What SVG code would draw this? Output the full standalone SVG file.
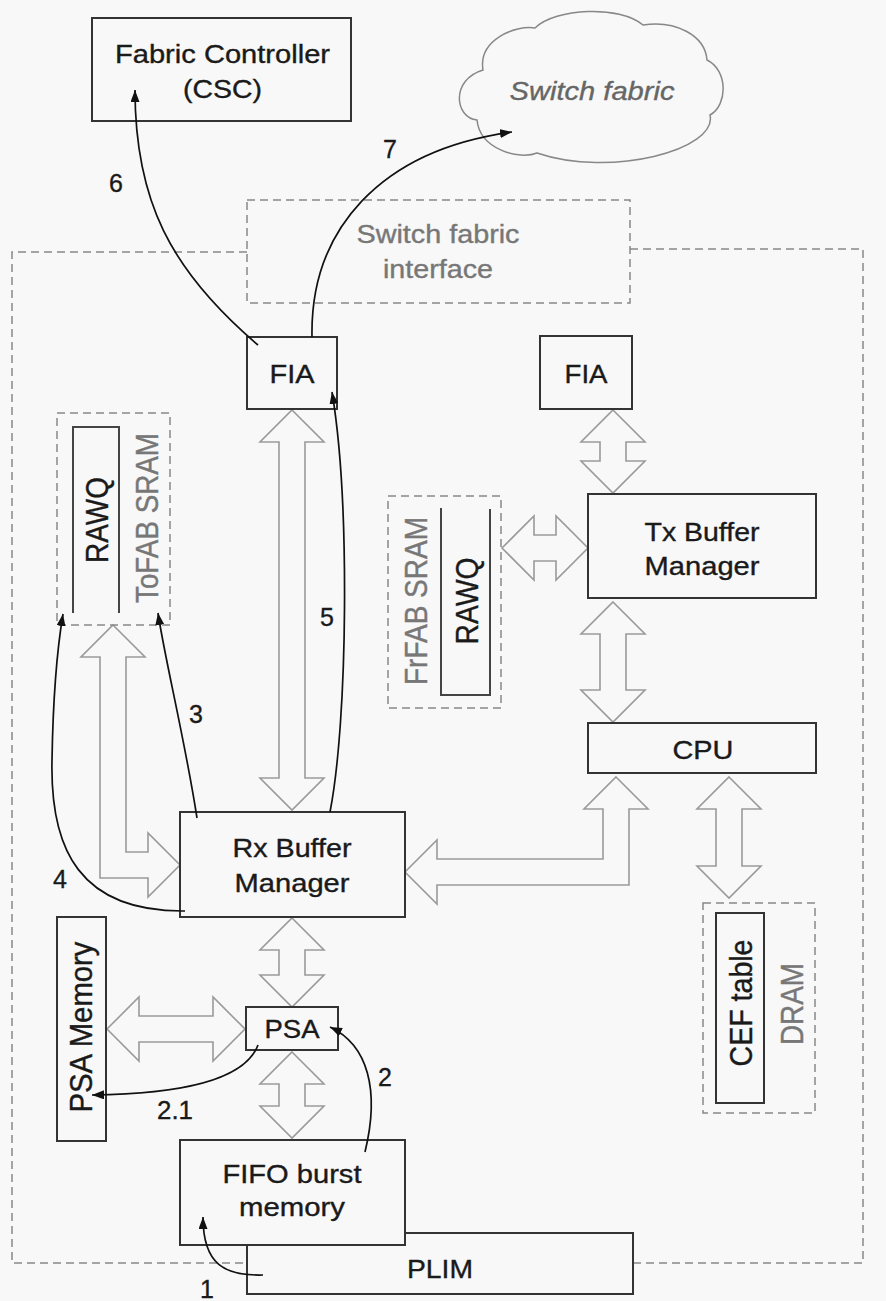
<svg xmlns="http://www.w3.org/2000/svg" width="886" height="1301" viewBox="0 0 886 1301">
<defs>
<style>
.box{fill:#f8f8f8;stroke:#333;stroke-width:2}
.dash{fill:none;stroke:#888;stroke-width:1.5;stroke-dasharray:8 5}
.harrow{fill:#f8f8f8;stroke:#9a9a9a;stroke-width:1.6;stroke-linejoin:miter}
.conn{fill:none;stroke:#111;stroke-width:1.7;marker-end:url(#ah)}
.t{font-family:"Liberation Sans",Arial,sans-serif;font-size:25px;fill:#1a1a1a;stroke:#1a1a1a;stroke-width:0.35;text-anchor:middle}
.g{fill:#777;stroke:#777}
.r{font-size:27px}
.q{fill:none;stroke:#444;stroke-width:2}
</style>
<marker id="ah" viewBox="0 0 12 9" refX="12" refY="4.5" markerWidth="12" markerHeight="9" markerUnits="userSpaceOnUse" orient="auto">
<path d="M0 0 L12 4.5 L0 9 Z" fill="#111"/>
</marker>
</defs>
<rect x="0" y="0" width="886" height="1301" fill="#f8f8f8"/>

<g id="line-card">
<path class="dash" d="M247 252 H12 V1263 H247 M633 1263 H863 V249 H630"/>
</g>

<g id="fabric-controller">
<rect class="box" x="92" y="18" width="259" height="103"/>
<text class="t" x="222.5" y="63" textLength="215" lengthAdjust="spacingAndGlyphs">Fabric Controller</text>
<text class="t" x="222.5" y="98" textLength="79" lengthAdjust="spacingAndGlyphs">(CSC)</text>
</g>

<g id="switch-fabric">
<path d="M477 120 C455 118,450 80,483 70 C478 40,515 25,535 28 C555 8,620 5,643 25 C675 20,705 35,707 60 C728 70,728 105,710 115 C718 150,610 178,537 153 C520 160,480 150,477 120 Z" fill="#f8f8f8" stroke="#888" stroke-width="1.5"/>
<text class="t" x="592" y="100" style="font-style:italic;fill:#666;stroke:#666" textLength="165" lengthAdjust="spacingAndGlyphs">Switch fabric</text>
</g>

<g id="switch-fabric-interface">
<rect class="dash" x="247" y="200" width="383" height="103"/>
<text class="t g" x="438" y="243" textLength="163" lengthAdjust="spacingAndGlyphs">Switch fabric</text>
<text class="t g" x="438" y="278" textLength="110" lengthAdjust="spacingAndGlyphs">interface</text>
</g>

<g id="bus-arrows">
<path class="harrow" d="M107 1029 L139 997 L139 1016 L213 1016 L213 997 L245 1029 L213 1061 L213 1042 L139 1042 L139 1061 Z"/>
<path class="harrow" d="M292 918 L324 950 L305 950 L305 975 L324 975 L292 1007 L260 975 L279 975 L279 950 L260 950 Z"/>
<path class="harrow" d="M292 1052 L324 1084 L305 1084 L305 1106 L324 1106 L292 1138 L260 1106 L279 1106 L279 1084 L260 1084 Z"/>
<path class="harrow" d="M292 410 L324 442 L305 442 L305 778 L324 778 L292 810 L260 778 L279 778 L279 442 L260 442 Z"/>
<path class="harrow" d="M113 625 L145 657 L126 657 L126 852 L148 852 L148 833 L180 865 L148 897 L148 878 L100 878 L100 657 L81 657 Z"/>
<path class="harrow" d="M616 777 L648 809 L629 809 L629 885 L437 885 L437 904 L405 872 L437 840 L437 859 L603 859 L603 809 L584 809 Z"/>
<path class="harrow" d="M613 410 L645 442 L626 442 L626 461 L645 461 L613 493 L581 461 L600 461 L600 442 L581 442 Z"/>
<path class="harrow" d="M502 548 L534 516 L534 535 L556 535 L556 516 L588 548 L556 580 L556 561 L534 561 L534 580 Z"/>
<path class="harrow" d="M613 602 L645 634 L626 634 L626 690 L645 690 L613 722 L581 690 L600 690 L600 634 L581 634 Z"/>
<path class="harrow" d="M729 777 L761 809 L742 809 L742 866 L761 866 L729 898 L697 866 L716 866 L716 809 L697 809 Z"/>
</g>

<g id="fia-left">
<rect class="box" x="247" y="337" width="90" height="72"/>
<text class="t" x="292" y="383" textLength="45" lengthAdjust="spacingAndGlyphs">FIA</text>
</g>

<g id="fia-right">
<rect class="box" x="540" y="336" width="92" height="73"/>
<text class="t" x="586" y="383" textLength="43" lengthAdjust="spacingAndGlyphs">FIA</text>
</g>

<g id="tofab-sram">
<rect class="dash" x="57" y="413" width="113" height="212"/>
<path class="q" d="M73 613 V427 H119 V613"/>
<text class="t r" transform="translate(108 520) rotate(-90) scale(1 1.14)" textLength="86" lengthAdjust="spacingAndGlyphs">RAWQ</text>
<text class="t r g" transform="translate(158 518) rotate(-90) scale(1 1.14)" textLength="170" lengthAdjust="spacingAndGlyphs">ToFAB SRAM</text>
</g>

<g id="frfab-sram">
<rect class="dash" x="388" y="496" width="113" height="212"/>
<path class="q" d="M441 508 V695 H490 V509"/>
<text class="t r g" transform="translate(427 601) rotate(-90) scale(1 1.14)" textLength="168" lengthAdjust="spacingAndGlyphs">FrFAB SRAM</text>
<text class="t r" transform="translate(478 601) rotate(-90) scale(1 1.14)" textLength="87" lengthAdjust="spacingAndGlyphs">RAWQ</text>
</g>

<g id="tx-buffer-manager">
<rect class="box" x="588" y="494" width="228" height="104"/>
<text class="t" x="702" y="541" textLength="115" lengthAdjust="spacingAndGlyphs">Tx Buffer</text>
<text class="t" x="702" y="575" textLength="115" lengthAdjust="spacingAndGlyphs">Manager</text>
</g>

<g id="cpu">
<rect class="box" x="588" y="723" width="228" height="50"/>
<text class="t" x="703" y="759" textLength="61" lengthAdjust="spacingAndGlyphs">CPU</text>
</g>

<g id="rx-buffer-manager">
<rect class="box" x="180" y="812" width="225" height="105"/>
<text class="t" x="292" y="857" textLength="119" lengthAdjust="spacingAndGlyphs">Rx Buffer</text>
<text class="t" x="292" y="892" textLength="115" lengthAdjust="spacingAndGlyphs">Manager</text>
</g>

<g id="dram">
<rect class="dash" x="703" y="903" width="112" height="210"/>
<rect class="box" x="716" y="913" width="48" height="190"/>
<text class="t r" transform="translate(752 1003) rotate(-90) scale(1 1.14)" textLength="127" lengthAdjust="spacingAndGlyphs">CEF table</text>
<text class="t r g" transform="translate(803 1004) rotate(-90) scale(1 1.14)" textLength="82" lengthAdjust="spacingAndGlyphs">DRAM</text>
</g>

<g id="psa-memory">
<rect class="box" x="57" y="917" width="49" height="224"/>
<text class="t r" transform="translate(92 1027) rotate(-90) scale(1 1.14)" textLength="171" lengthAdjust="spacingAndGlyphs">PSA Memory</text>
</g>

<g id="psa">
<rect class="box" x="246" y="1007" width="92" height="43"/>
<text class="t" x="292" y="1038" textLength="55" lengthAdjust="spacingAndGlyphs">PSA</text>
</g>

<g id="plim">
<rect class="box" x="247" y="1233" width="386" height="61"/>
<text class="t" x="440" y="1278" textLength="66" lengthAdjust="spacingAndGlyphs">PLIM</text>
</g>

<g id="fifo-burst-memory">
<rect class="box" x="180" y="1140" width="225" height="105"/>
<text class="t" x="292" y="1183" textLength="139" lengthAdjust="spacingAndGlyphs">FIFO burst</text>
<text class="t" x="292" y="1216" textLength="106" lengthAdjust="spacingAndGlyphs">memory</text>
</g>

<g id="connectors">
<path class="conn" d="M263 1275 C225 1276,203 1265,203 1217"/>
<path class="conn" d="M365 1152 C380 1090,368 1045,330 1027"/>
<path class="conn" d="M258 1045 C245 1080,180 1094,92 1095"/>
<path class="conn" d="M197 818 C185 740,165 660,158 613"/>
<path class="conn" d="M185 911 C80 912,50 850,52 760 C53 700,57 650,63 614"/>
<path class="conn" d="M330 812 C348 720,350 500,332 392"/>
<path class="conn" d="M258 345 C170 270,135 200,135 90"/>
<path class="conn" d="M312 337 C310 230,380 150,512 132"/>
</g>

<g id="labels">
<text class="t" x="116" y="192">6</text>
<text class="t" x="390" y="158">7</text>
<text class="t" x="327" y="626">5</text>
<text class="t" x="196" y="723">3</text>
<text class="t" x="60" y="888">4</text>
<text class="t" x="385" y="1086">2</text>
<text class="t" x="175" y="1119" textLength="36" lengthAdjust="spacingAndGlyphs">2.1</text>
<text class="t" x="207" y="1298">1</text>
</g>
</svg>
